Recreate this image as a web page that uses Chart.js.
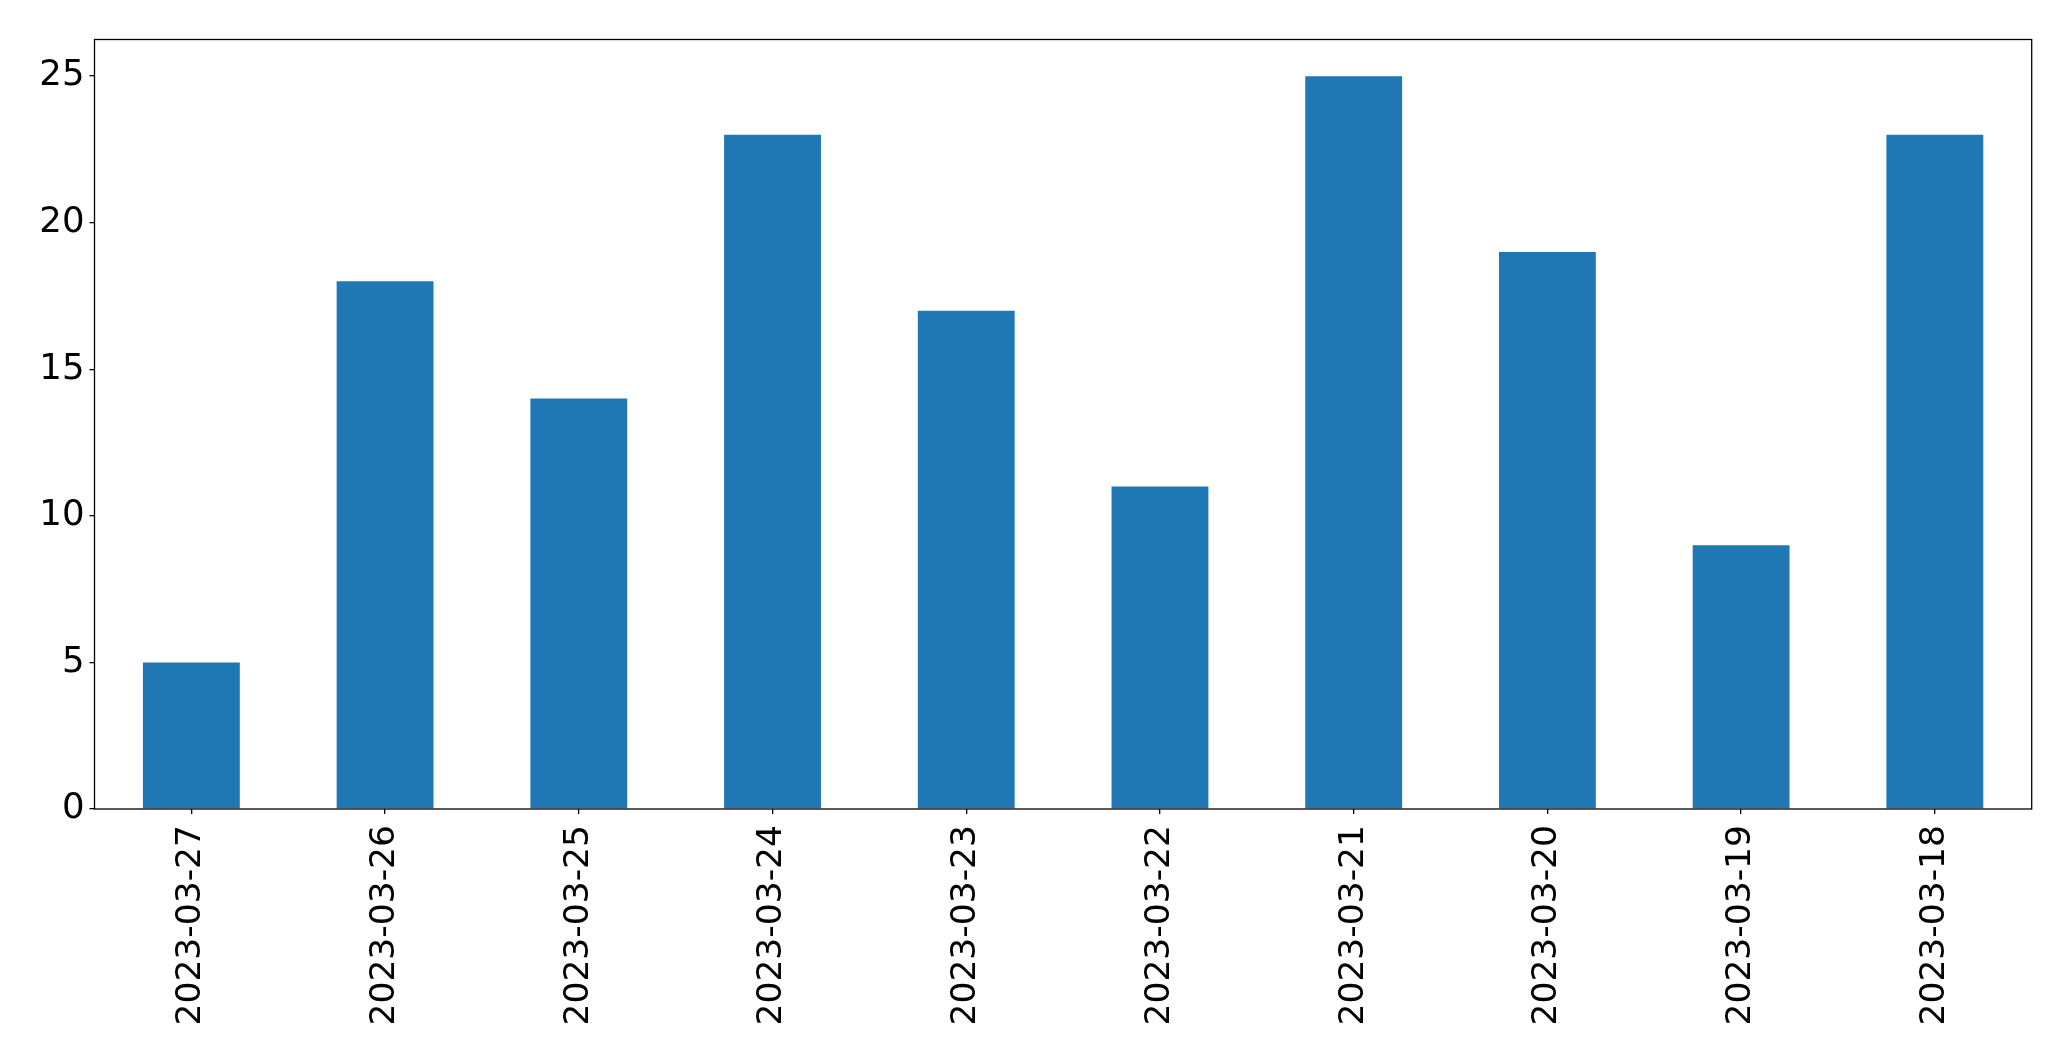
<!DOCTYPE html>
<html>
<head>
<meta charset="utf-8">
<script src="https://cdn.jsdelivr.net/npm/chart.js@4.4.0/dist/chart.umd.min.js"></script>
<style>
  html, body { margin: 0; padding: 0; background: #fff; }
  #wrap { width: 2071px; height: 1061px; }
</style>
</head>
<body>
<div id="wrap"><canvas id="myChart" width="2071" height="1061"></canvas></div>
<script>
const dates = ['2023-03-27', '2023-03-26', '2023-03-25', '2023-03-24', '2023-03-23',
  '2023-03-22', '2023-03-21', '2023-03-20', '2023-03-19', '2023-03-18'];
const counts = [5, 18, 14, 23, 17, 11, 25, 19, 9, 23];
const yTicks = [0, 5, 10, 15, 20, 25];

const ctx = document.getElementById('myChart').getContext('2d');

// matplotlib-style box around the plot area
const frame = {
  id: 'frame',
  afterDraw(chart) {
    const { left, top, right, bottom } = chart.chartArea;
    const c = chart.ctx;
    c.save();
    c.strokeStyle = '#000';
    c.lineWidth = 1.3;
    c.strokeRect(left, top, right - left, bottom - top);
    c.restore();
  },
};

const chart = new Chart(ctx, {
  type: 'bar',
  data: {
    labels: dates,
    datasets: [{
      data: counts,
      backgroundColor: '#1f77b4',
      borderWidth: 0,
      barPercentage: 0.5,
      categoryPercentage: 1.0,
    }],
  },
  options: {
    responsive: false,
    animation: false,
    layout: { padding: { top: 39.5, right: 39.3, bottom: 0, left: 0 } },
    plugins: { legend: { display: false }, tooltip: { enabled: false } },
    scales: {
      x: {
        grid: {
          display: true, offset: false, drawOnChartArea: false, drawTicks: true, tickLength: 5, color: '#000', lineWidth: 1.3,
        },
        border: { display: false },
        ticks: {
          color: '#000',
          font: { family: 'DejaVu Sans', size: 34.5 },
          minRotation: 90,
          maxRotation: 90,
          padding: 11,
          autoSkip: false,
        },
        afterFit(scale) { scale.height = 1061 - 809; },
      },
      y: {
        min: 0,
        max: 26.25,
        grid: { display: true, drawOnChartArea: false, drawTicks: true, tickLength: 5, color: '#000', lineWidth: 1.3 },
        border: { display: false },
        afterBuildTicks(scale) { scale.ticks = yTicks.map((v) => ({ value: v })); },
        ticks: {
          color: '#000',
          font: { family: 'DejaVu Sans', size: 35.5 },
          padding: 5,
          includeBounds: false,
        },
        afterFit(scale) { scale.width = 94.5; },
      },
    },
  },
  plugins: [frame],
});
</script>
</body>
</html>
